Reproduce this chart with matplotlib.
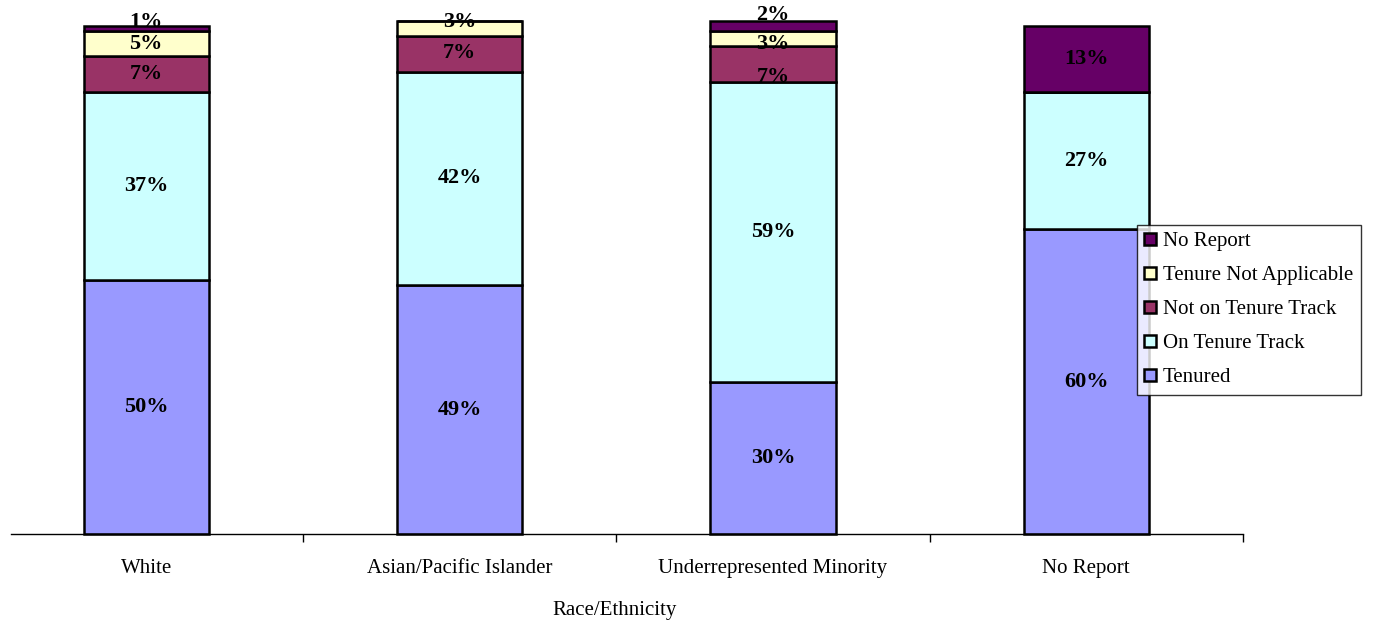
import matplotlib.pyplot as plt
import numpy as np

plt.rcParams['font.family'] = ['Liberation Serif', 'DejaVu Serif']

categories = ['White', 'Asian/Pacific Islander', 'Underrepresented Minority', 'No Report']
series = ['Tenured', 'On Tenure Track', 'Not on Tenure Track', 'Tenure Not Applicable', 'No Report']
tenured = [50, 49, 30, 60]
on_track = [37, 42, 59, 27]
not_on_track = [7, 7, 7, 0]
not_applicable = [5, 3, 3, 0]
no_report = [1, 0, 2, 13]

colors = ['#9999FF', '#CCFFFF', '#993366', '#FFFFCC', '#660066']

# small nudges (in points) for labels that would collide in thin segments
nudge = {(0, 4): 4.5, (1, 3): 5, (1, 2): 1, (2, 4): 8, (2, 3): -4, (2, 2): -9}

W, H = 1373, 626
fig = plt.figure(figsize=(W / 100, H / 100), dpi=100)
ax = fig.add_axes([-10.5 / W, (H - 534) / H, 1253.5 / W, 508 / H])

values = np.array([tenured, on_track, not_on_track, not_applicable, no_report], dtype=float)
x = np.arange(len(categories))
bottom = np.zeros(len(categories))
for i, (name, vals) in enumerate(zip(series, values)):
    ax.bar(x, vals, 0.4, bottom=bottom, color=colors[i], edgecolor='black',
           linewidth=1.8, label=name, zorder=2, clip_on=False)
    for j, v in enumerate(vals):
        if v > 0:
            ax.annotate(f'{int(v)}%', (x[j], bottom[j] + v / 2),
                        xytext=(0, nudge.get((j, i), 0)), textcoords='offset points',
                        ha='center', va='center', fontsize=16, fontweight='bold', zorder=3)
    bottom += vals

ax.set_xlim(-0.5, 3.5)
ax.set_ylim(0, 100)
for s in ['left', 'right', 'top']:
    ax.spines[s].set_visible(False)
ax.spines['bottom'].set_bounds(-0.5 + 21.5 / 313.5, 3.5)
ax.spines['bottom'].set_linewidth(1.0)
ax.set_yticks([])
ax.set_xticks(x)
ax.set_xticklabels(categories, fontsize=15)
ax.tick_params(axis='x', which='major', length=0, pad=18)
ax.set_xticks(np.arange(0.5, 4, 1), minor=True)
ax.tick_params(axis='x', which='minor', length=6, width=1, direction='out')
ax.set_xlabel('Race/Ethnicity', fontsize=15)
ax.xaxis.set_label_coords((615 + 10.5) / 1253.5, -(601 - 534) / 508)

handles, labels = ax.get_legend_handles_labels()
leg = fig.legend(handles[::-1], labels[::-1], loc='upper left',
                 bbox_to_anchor=(1137 / W, 1 - 225 / H), bbox_transform=fig.transFigure,
                 borderaxespad=0, fontsize=15, frameon=True, fancybox=False,
                 handlelength=0.55, handleheight=0.55, handletextpad=0.35,
                 labelspacing=0.72, borderpad=0.35)
leg.get_frame().set_edgecolor('black')
leg.get_frame().set_linewidth(1.0)

fig.savefig('out.png', dpi=100)
